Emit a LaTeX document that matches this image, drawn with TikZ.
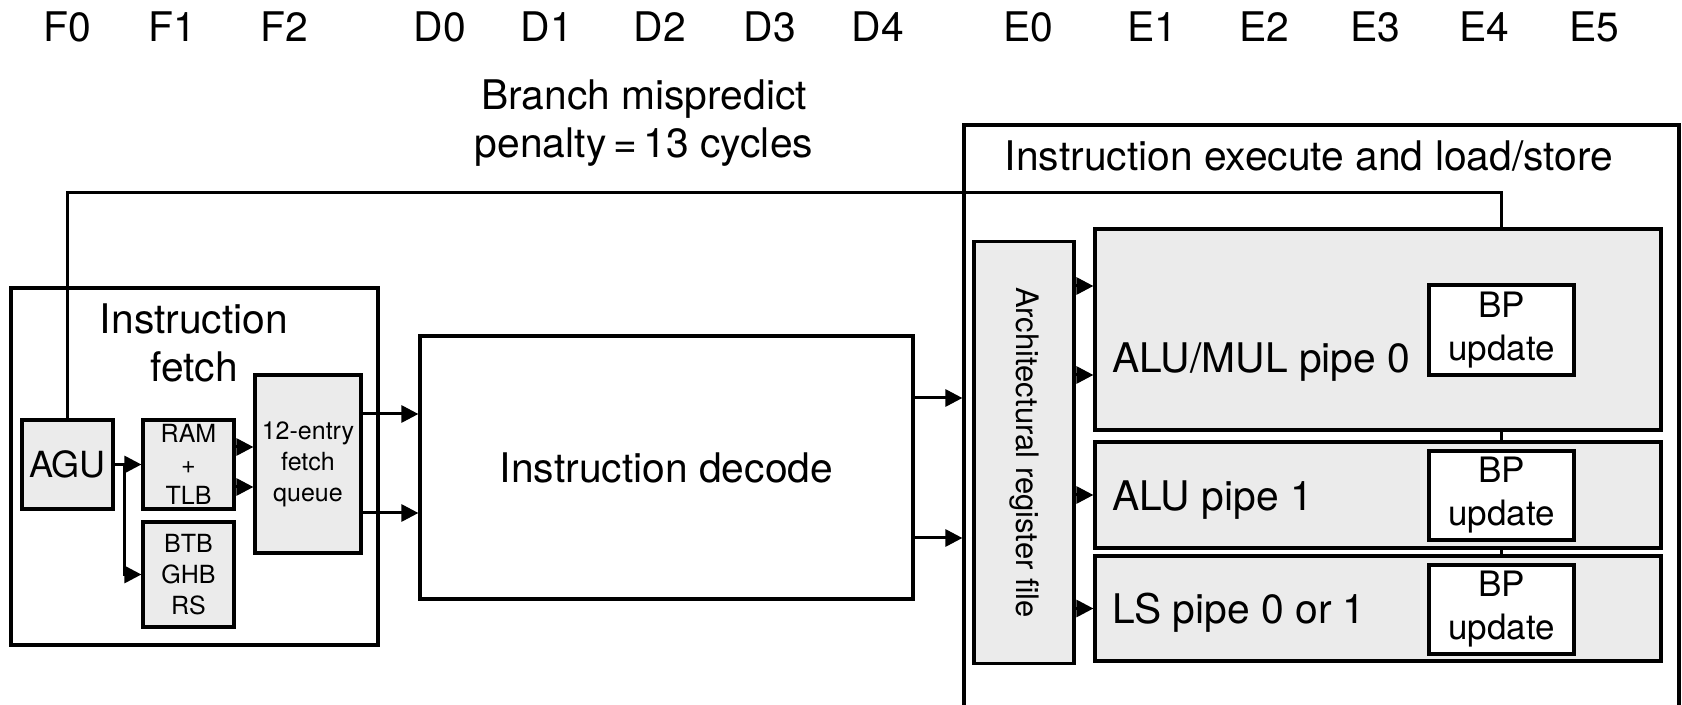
\documentclass[tikz,border=0pt]{standalone}
\usepackage{fontspec}
\setmainfont{TeX Gyre Heros}
\usepackage{xcolor}
\usetikzlibrary{arrows.meta}
\definecolor{boxgray}{RGB}{235,235,235}

\begin{document}
\begin{tikzpicture}[x=0.5pt, y=-0.5pt,
		blk/.style={draw, line width=1.6pt, inner sep=0pt, align=center},
		gblk/.style={blk, fill=boxgray},
		wire/.style={line width=1.5pt},
		arr/.style={wire, -{Triangle[length=8.5pt, width=8.5pt]}},
		big/.style={font=\fontsize{20.4}{24}\selectfont, align=center, inner sep=0pt},
		small/.style={font=\fontsize{12.5}{15.5}\selectfont},
		bpfont/.style={font=\fontsize{17.5}{21.5}\selectfont}]
	\useasboundingbox (0,0) rectangle (1682,705);
	\foreach \lab/\xx in {F0/67,F1/172,F2/284,D0/440,D1/547,D2/660,D3/770,D4/878,E0/1028,E1/1152,E2/1264,E3/1375,E4/1484,E5/1594}
		\node[big] (\lab) at (\xx,27) {\lab};
	\node[big] (penalty) at (644,123) {Branch mispredict\\penalty\,=\,13 cycles};

	\node[blk, minimum width=183.5pt, minimum height=178.5pt] (fetch) at (194.5,466.5) {};
	\node[big] (fetchtitle) at (194,343) {Instruction\\fetch};
	\node[gblk, minimum width=45.5pt, minimum height=44.5pt, font=\fontsize{18}{21}\selectfont] (agu) at (67.5,464.5) {AGU};
	\node[gblk, small, minimum width=45.5pt, minimum height=44.5pt] (ram) at (188.5,464.5) {RAM\\+\\TLB};
	\node[gblk, small, minimum width=45.5pt, minimum height=52.5pt] (btb) at (188.5,574.5) {BTB\\GHB\\RS};
	\node[gblk, small, minimum width=53pt, minimum height=89pt] (queue) at (308,464) {12-entry\\fetch\\queue};

	\node[blk, big, minimum width=246.5pt, minimum height=131.5pt] (decode) at (666.5,467.5) {Instruction decode};

	\node[blk, minimum width=357.5pt, minimum height=317.5pt] (exec) at (1321.5,442.5) {};
	\node[big] (exectitle) at (1309,156) {Instruction execute and load/store};
	\node[gblk, minimum width=50pt, minimum height=211pt] (rf) at (1024,452.5) {};
	\node[rotate=-90, inner sep=0pt, font=\fontsize{15.5}{18}\selectfont] (rftext) at (rf.center) {Architectural register file};
	\node[gblk, minimum width=283pt, minimum height=100.5pt] (alu0) at (1378,329.5) {};
	\node[gblk, minimum width=283pt, minimum height=53pt] (alu1) at (1378,495) {};
	\node[gblk, minimum width=283pt, minimum height=52.5pt] (ls) at (1378,608.5) {};
	\node[big, anchor=base west] (alu0text) at (1112,373) {ALU/MUL pipe 0};
	\node[big, anchor=base west] (alu1text) at (1112,511) {ALU pipe 1};
	\node[big, anchor=base west] (lstext) at (1112,623) {LS pipe 0 or 1};
	\node[blk, bpfont, fill=white, minimum width=72.5pt, minimum height=45pt] (bp0) at (1501.5,330) {BP\\update};
	\node[blk, bpfont, fill=white, minimum width=72.5pt, minimum height=44.5pt] (bp1) at (1501.5,495.5) {BP\\update};
	\node[blk, bpfont, fill=white, minimum width=72.5pt, minimum height=44.5pt] (bp2) at (1501.5,609.5) {BP\\update};

	\draw[wire] (agu.north) |- (bp0.center |- 0,193) -- (bp0.center |- alu0.north);
	\draw[wire] (bp0.center |- alu0.south) -- (bp0.center |- alu1.north);
	\draw[wire] (bp1.center |- alu1.south) -- (bp1.center |- ls.north);

	\draw[arr] (agu.east) -- (ram.west);
	\draw[arr] ([xshift=5pt]agu.east) |- (btb.west);
	\draw[arr] (ram.east |- 0,447) -- (queue.west |- 0,447);
	\draw[arr] (ram.east |- 0,487) -- (queue.west |- 0,487);
	\draw[arr] (queue.east |- 0,414) -- (decode.west |- 0,414);
	\draw[arr] (queue.east |- 0,513) -- (decode.west |- 0,513);
	\draw[arr] (decode.east |- 0,398) -- (exec.west |- 0,398);
	\draw[arr] (decode.east |- 0,538) -- (exec.west |- 0,538);
	\draw[arr] (rf.east |- 0,286) -- (alu0.west |- 0,286);
	\draw[arr] (rf.east |- 0,375) -- (alu0.west |- 0,375);
	\draw[arr] (rf.east |- alu1.west) -- (alu1.west);
	\draw[arr] (rf.east |- ls.west) -- (ls.west);
\end{tikzpicture}
\end{document}
